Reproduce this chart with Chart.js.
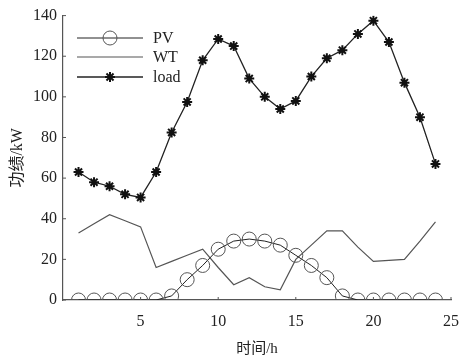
<!DOCTYPE html>
<html>
<head>
<meta charset="utf-8">
<script src="https://cdn.jsdelivr.net/npm/chart.js@4"></script>
<style>
  html, body { margin: 0; padding: 0; background: #fff; }
  #wrap { width: 460px; height: 360px; }
</style>
</head>
<body>
<div id="wrap"><canvas id="powerChart" width="460" height="360"></canvas></div>
<script>
// ========================================
// DATA
// ========================================
const hours = [1, 2, 3, 4, 5, 6, 7, 8, 9, 10, 11, 12, 13, 14, 15, 16, 17, 18, 19, 20, 21, 22, 23, 24];
const pvPower = [0, 0, 0, 0, 0, 0, 2, 10, 17, 25, 29, 30, 29, 27, 22, 17, 11, 2, 0, 0, 0, 0, 0, 0];
const wtPower = [33, 37.5, 42, 39, 36, 16, 19, 22, 25, 16, 7.5, 11, 6.5, 5, 20, 27, 34, 34, 26, 19, 19.5, 20, 29, 38.5];
const loadPower = [63, 58, 56, 52, 50.5, 63, 82.5, 97.5, 118, 128.5, 125, 109, 100, 94, 98, 110, 119, 123, 131, 137.5, 127, 107, 90, 67];
const xTicks = [5, 10, 15, 20, 25];
const yTicks = [0, 20, 40, 60, 80, 100, 120, 140];
const seriesNames = ["PV", "WT", "load"];

const serif = "'Liberation Serif', 'DejaVu Serif', serif";
const titleFont = "'Liberation Serif', 'Noto Sans CJK SC', serif";

const toPoints = (vals) => vals.map((v, i) => ({ x: hours[i], y: v }));

// ========================================
// CUSTOM LEGEND + INWARD TICKS
// ========================================
const matlabLegend = {
  id: "matlabLegend",
  afterDraw(chart) {
    const ctx = chart.ctx;
    const x0 = 77, x1 = 143, rowY = [38, 57, 77];
    chart.data.datasets.forEach((ds, i) => {
      const y = rowY[i];
      ctx.save();
      ctx.strokeStyle = ds.borderColor;
      ctx.lineWidth = ds.borderWidth;
      ctx.beginPath();
      ctx.moveTo(x0, y);
      ctx.lineTo(x1, y);
      ctx.stroke();
      if (ds.pointRadius > 0) {
        ctx.strokeStyle = ds.pointBorderColor;
        ctx.fillStyle = ds.pointBackgroundColor;
        ctx.lineWidth = ds.pointBorderWidth;
        Chart.helpers.drawPoint(ctx, { pointStyle: ds.pointStyle, radius: ds.pointRadius, borderWidth: ds.pointBorderWidth }, (x0 + x1) / 2, y);
      }
      ctx.fillStyle = "#222";
      ctx.font = "16px " + serif;
      ctx.textBaseline = "middle";
      ctx.fillText(seriesNames[i], 153, y + 1);
      ctx.restore();
    });
  },
};

const inwardTicks = {
  id: "inwardTicks",
  afterDraw(chart) {
    const ctx = chart.ctx;
    const { x, y } = chart.scales;
    ctx.save();
    ctx.strokeStyle = "#555";
    ctx.lineWidth = 1;
    ctx.beginPath();
    yTicks.forEach((v) => {
      const py = y.getPixelForValue(v);
      ctx.moveTo(chart.chartArea.left, py);
      ctx.lineTo(chart.chartArea.left + 3, py);
    });
    xTicks.forEach((v) => {
      const px = x.getPixelForValue(v);
      ctx.moveTo(px, chart.chartArea.bottom);
      ctx.lineTo(px, chart.chartArea.bottom - 3);
    });
    ctx.stroke();
    ctx.restore();
  },
};

// ========================================
// CHART
// ========================================
new Chart(document.getElementById("powerChart"), {
  type: "line",
  data: {
    datasets: [
      {
        label: seriesNames[0],
        data: toPoints(pvPower),
        borderColor: "#222",
        borderWidth: 1,
        pointStyle: "circle",
        pointRadius: 7,
        pointBorderColor: "#555",
        pointBackgroundColor: "rgba(0,0,0,0)",
        pointBorderWidth: 1,
        tension: 0,
      },
      {
        label: seriesNames[1],
        data: toPoints(wtPower),
        borderColor: "#555",
        borderWidth: 1.2,
        pointRadius: 0,
        tension: 0,
      },
      {
        label: seriesNames[2],
        data: toPoints(loadPower),
        borderColor: "#222",
        borderWidth: 1.3,
        pointStyle: "star",
        pointRadius: 5,
        pointBorderColor: "#111",
        pointBackgroundColor: "#111",
        pointBorderWidth: 2,
        tension: 0,
      },
    ],
  },
  options: {
    responsive: false,
    animation: false,
    layout: { padding: { top: 9, right: 0, left: 0, bottom: 0 } },
    plugins: {
      legend: { display: false },
      tooltip: { enabled: false },
    },
    scales: {
      x: {
        type: "linear",
        min: 0,
        max: 25,
        afterBuildTicks: (scale) => {
          scale.ticks = xTicks.map((v) => ({ value: v }));
        },
        afterFit: (scale) => {
          scale.height = 60;
          scale.paddingRight = 9;
        },
        grid: { display: false, drawTicks: false },
        border: { display: true, color: "#555", width: 1.2 },
        ticks: { color: "#222", font: { family: serif, size: 16 }, padding: 12, maxRotation: 0 },
        title: {
          display: true,
          text: "时间/h",
          color: "#222",
          font: { family: titleFont, size: 15 },
          padding: { top: 0, bottom: 2 },
        },
      },
      y: {
        type: "linear",
        min: 0,
        max: 140,
        afterBuildTicks: (scale) => {
          scale.ticks = yTicks.map((v) => ({ value: v }));
        },
        afterFit: (scale) => {
          scale.width = 63;
        },
        grid: { display: false, drawTicks: false },
        border: { display: true, color: "#555", width: 1.2 },
        ticks: { color: "#222", font: { family: serif, size: 16 }, padding: 6 },
        title: {
          display: true,
          text: "功绩/kW",
          color: "#222",
          font: { family: titleFont, size: 16 },
          padding: { top: 8, bottom: 0 },
        },
      },
    },
  },
  plugins: [matlabLegend, inwardTicks],
});
</script>
</body>
</html>
